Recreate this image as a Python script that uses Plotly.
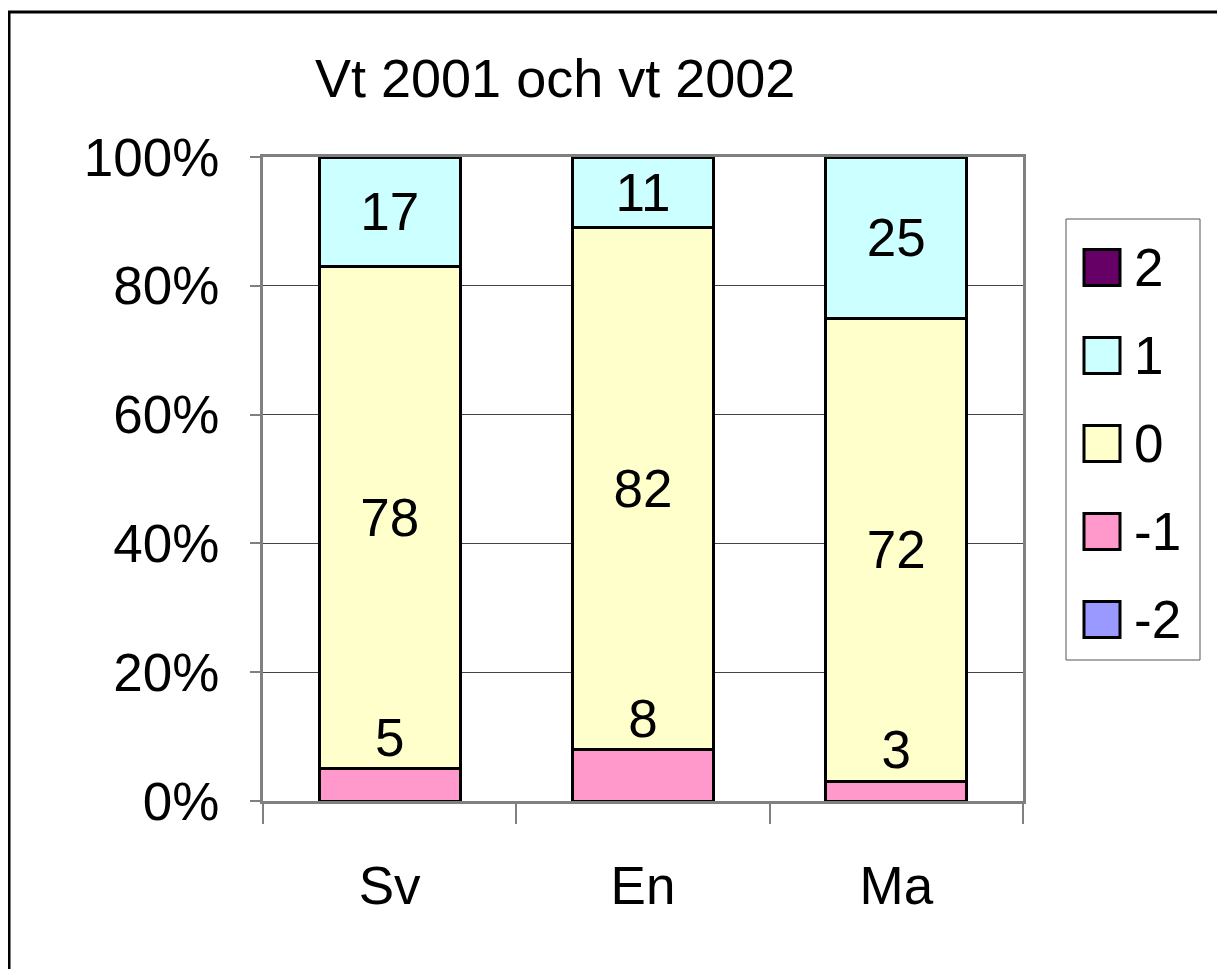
import plotly.graph_objects as go

subjects = ["Sv", "En", "Ma"]
grades = ["-2", "-1", "0", "1", "2"]
values = {
    "-2": [0, 0, 0],
    "-1": [5, 8, 3],
    "0": [78, 82, 72],
    "1": [17, 11, 25],
    "2": [0, 0, 0],
}
colors = {
    "-2": "#9999FF",
    "-1": "#FF99CC",
    "0": "#FFFFCC",
    "1": "#CCFFFF",
    "2": "#660066",
}
title = "Vt 2001 och vt 2002"
ytick_vals = [0, 20, 40, 60, 80, 100]
ytick_text = ["0%", "20%", "40%", "60%", "80%", "100%"]

FONT = "Liberation Sans, Arial, sans-serif"
# page has an 8px body margin, so work in figure pixels (page px - 8)
OFF = 8
W, H = 1225 - OFF, 969 - OFF
L, R, T, B = 263 - OFF, 1023 - OFF, 157 - OFF, 801 - OFF


def px(x):
    # x given in page pixels
    return (x - OFF - L) / (R - L)


def py(y):
    return (B - (y - OFF)) / (B - T)


fig = go.Figure()

for g in grades:
    show_text = g in ("0", "1")
    fig.add_trace(go.Bar(
        x=subjects, y=values[g], name=g,
        marker=dict(color=colors[g], line=dict(color="black", width=3)),
        text=[str(v) for v in values[g]] if show_text else None,
        texttemplate="%{text}" if show_text else None,
        textposition="inside" if show_text else "none",
        insidetextanchor="middle",
        constraintext="none",
        textangle=0,
        textfont=dict(size=53, color="black", family=FONT),
        showlegend=False,
        hoverinfo="skip",
    ))

# labels for the small -1 segments sit just above the segment
totals = [sum(values[g][i] for g in grades) for i in range(len(subjects))]
neg_pct = [values["-1"][i] / totals[i] * 100 for i in range(len(subjects))]
fig.add_trace(go.Scatter(
    x=subjects, y=neg_pct, mode="text",
    text=[str(v) for v in values["-1"]],
    textposition="top center",
    textfont=dict(size=53, color="black", family=FONT),
    showlegend=False, hoverinfo="skip",
))

shapes = []
annotations = []

# manual legend
shapes.append(dict(type="rect", xref="paper", yref="paper",
                   x0=px(1066), x1=px(1200), y0=py(660), y1=py(219),
                   line=dict(color="#555555", width=1), fillcolor="white"))
for i, g in enumerate(reversed(grades)):
    yc = 267.5 + i * 88
    shapes.append(dict(type="rect", xref="paper", yref="paper",
                       x0=px(1084), x1=px(1120), y0=py(yc + 18), y1=py(yc - 18),
                       line=dict(color="black", width=3), fillcolor=colors[g]))
    annotations.append(dict(xref="paper", yref="paper", x=px(1132), y=py(yc),
                            xanchor="left", yanchor="middle", showarrow=False,
                            text=g, font=dict(size=53, color="black", family=FONT)))

# outer chart frame
shapes.append(dict(type="line", xref="paper", yref="paper",
                   x0=px(9), x1=px(9), y0=py(12), y1=py(990),
                   line=dict(color="black", width=3)))
shapes.append(dict(type="line", xref="paper", yref="paper",
                   x0=px(8), x1=px(1224), y0=py(12), y1=py(12),
                   line=dict(color="black", width=3)))
shapes.append(dict(type="line", xref="paper", yref="paper",
                   x0=px(1223.5), x1=px(1223.5), y0=py(12), y1=py(990),
                   line=dict(color="#444444", width=1.5)))

fig.update_layout(
    width=W, height=H,
    margin=dict(l=L, r=W - R, t=T, b=H - B),
    barmode="stack", barnorm="percent", bargap=0.443,
    paper_bgcolor="white", plot_bgcolor="white",
    font=dict(family=FONT, size=53, color="black"),
    title=dict(text=title, xref="container", x=(315 - OFF) / W, xanchor="left",
               yref="container", y=1 - (78 - OFF) / H, yanchor="middle",
               font=dict(size=54, color="black", family=FONT)),
    shapes=shapes, annotations=annotations,
    showlegend=False,
)
fig.update_xaxes(
    showline=True, linecolor="#808080", linewidth=3, mirror=True,
    ticks="outside", tickson="boundaries", ticklen=20, tickcolor="#808080",
    tickwidth=2, showgrid=False, ticklabelstandoff=36,
    tickfont=dict(size=53, family=FONT, color="black"),
)
fig.update_yaxes(
    range=[0, 100], tickmode="array", tickvals=ytick_vals, ticktext=ytick_text,
    showline=True, linecolor="#808080", linewidth=3, mirror=True,
    ticks="outside", ticklen=10, tickcolor="#808080", tickwidth=2,
    showgrid=True, gridcolor="#444444", gridwidth=1, zeroline=False,
    ticklabelstandoff=20,
    tickfont=dict(size=53, family=FONT, color="black"),
)

fig.write_html("out.html")
